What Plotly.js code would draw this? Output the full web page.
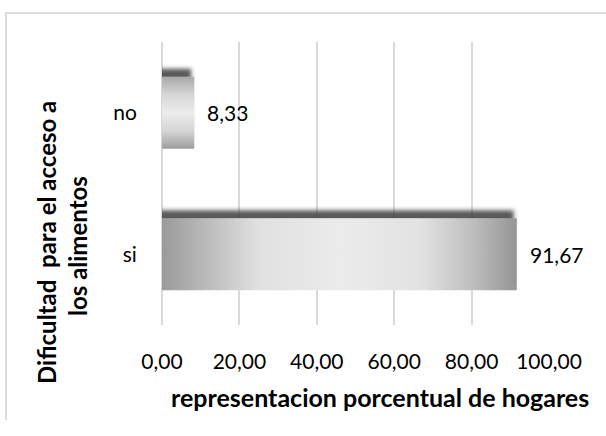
<!DOCTYPE html>
<html>
<head>
<meta charset="utf-8">
<script src="https://cdn.plot.ly/plotly-3.0.1.min.js"></script>
<style>
  html, body { margin: 0; padding: 0; background: #fff; }
  #chart { position: absolute; left: 0; top: 0; width: 606px; height: 436px; }
  #frame { position: absolute; left: 5px; top: 12px; width: 640px; height: 406px;
           border-top: 2px solid #dcdcdc; border-left: 2px solid #dcdcdc;
           pointer-events: none; z-index: 10; }
</style>
</head>
<body>
<div id="chart"></div>
<div id="frame"></div>
<script>
// ---- data ----
const categories = ["si", "no"];
const values = [91.67, 8.33];
const xTickVals = [0, 20, 40, 60, 80, 100];
const yTitleLine1 = "Dificultad  para el acceso a";
const yTitleLine2 = "los alimentos";
const xTitle = "representacion porcentual de hogares";

const FONT = "Lato, 'Open Sans', sans-serif";

const trace = {
  type: "bar",
  orientation: "h",
  x: values,
  y: categories,
  marker: { color: "#d0d0d0", line: { width: 0 } },
  hoverinfo: "skip",
  showlegend: false
};

const labelAnnotations = values.map((v, i) => ({
  x: v, y: categories[i], xref: "x", yref: "y",
  text: v.toFixed(2).replace(".", ","),
  showarrow: false, xanchor: "left", yanchor: "middle", xshift: 11,
  font: { family: FONT, size: 21, color: "#000" }
}));

const layout = {
  width: 606, height: 436,
  margin: { l: 162, r: 57, t: 42, b: 111 },
  paper_bgcolor: "#fff", plot_bgcolor: "#fff",
  separators: ",.",
  bargap: 0.49,
  xaxis: {
    range: [0, 100], tickvals: xTickVals, tickformat: ".2f",
    showgrid: true, gridcolor: "#d9d9d9", gridwidth: 2,
    zeroline: true, zerolinecolor: "#d9d9d9", zerolinewidth: 2,
    showline: false, ticks: "outside", ticklen: 18, tickcolor: "rgba(0,0,0,0)",
    tickfont: { family: FONT, size: 21, color: "#000" }, fixedrange: true
  },
  yaxis: {
    type: "category", categoryorder: "array", categoryarray: categories,
    range: [-0.5, 1.5], showgrid: false, zeroline: false, showline: false,
    ticks: "outside", ticklen: 20, tickcolor: "rgba(0,0,0,0)",
    tickfont: { family: FONT, size: 21, color: "#000" }, fixedrange: true
  },
  annotations: labelAnnotations.concat([
    { xref: "paper", yref: "paper", x: 0, y: 0, xshift: 218, yshift: -72,
      xanchor: "center", yanchor: "middle", showarrow: false, text: "<b>" + xTitle + "</b>",
      font: { family: FONT, size: 25, color: "#000" } },
    { xref: "paper", yref: "paper", x: 0, y: 0, xshift: -116, yshift: 82,
      xanchor: "center", yanchor: "middle", showarrow: false, textangle: -90,
      text: "<b>" + yTitleLine1 + "</b>",
      font: { family: FONT, size: 24, color: "#000" } },
    { xref: "paper", yref: "paper", x: 0, y: 0, xshift: -85, yshift: 79,
      xanchor: "center", yanchor: "middle", showarrow: false, textangle: -90,
      text: "<b>" + yTitleLine2 + "</b>",
      font: { family: FONT, size: 24, color: "#000" } }
  ])
};

Plotly.newPlot("chart", [trace], layout, { staticPlot: true, displayModeBar: false }).then(gd => {
  const svg = gd.querySelector("svg.main-svg");
  const ns = "http://www.w3.org/2000/svg";
  let defs = svg.querySelector("defs");
  if (!defs) { defs = document.createElementNS(ns, "defs"); svg.insertBefore(defs, svg.firstChild); }
  function grad(id, x2, y2, stops) {
    const g = document.createElementNS(ns, "linearGradient");
    g.setAttribute("id", id);
    g.setAttribute("x1", "0"); g.setAttribute("y1", "0");
    g.setAttribute("x2", x2); g.setAttribute("y2", y2);
    stops.forEach(([o, c]) => {
      const s = document.createElementNS(ns, "stop");
      s.setAttribute("offset", o); s.setAttribute("stop-color", c);
      g.appendChild(s);
    });
    defs.appendChild(g);
  }
  grad("gradH", "1", "0", [[0, "#9a9a9a"], [0.1, "#b4b4b4"], [0.27, "#e0e0e0"], [0.5, "#ebebeb"],
                           [0.73, "#e2e2e2"], [0.88, "#bdbdbd"], [1, "#959595"]]);
  grad("gradV", "0", "1", [[0, "#a8a8a8"], [0.25, "#d6d6d6"], [0.5, "#ebebeb"],
                           [0.75, "#d6d6d6"], [1, "#9c9c9c"]]);
  const f = document.createElementNS(ns, "filter");
  f.setAttribute("id", "barShadow");
  f.setAttribute("x", "-20%"); f.setAttribute("y", "-40%");
  f.setAttribute("width", "140%"); f.setAttribute("height", "180%");
  const ds = document.createElementNS(ns, "feDropShadow");
  ds.setAttribute("dx", "-3"); ds.setAttribute("dy", "-8");
  ds.setAttribute("stdDeviation", "2.2");
  ds.setAttribute("flood-color", "#3c3c3c"); ds.setAttribute("flood-opacity", "0.85");
  f.appendChild(ds);
  defs.appendChild(f);
  gd.querySelectorAll(".barlayer .point path").forEach(p => {
    const bb = p.getBBox();
    p.style.fill = bb.width > 3 * bb.height ? "url(#gradH)" : "url(#gradV)";
    p.style.filter = "url(#barShadow)";
  });
});
</script>
</body>
</html>
